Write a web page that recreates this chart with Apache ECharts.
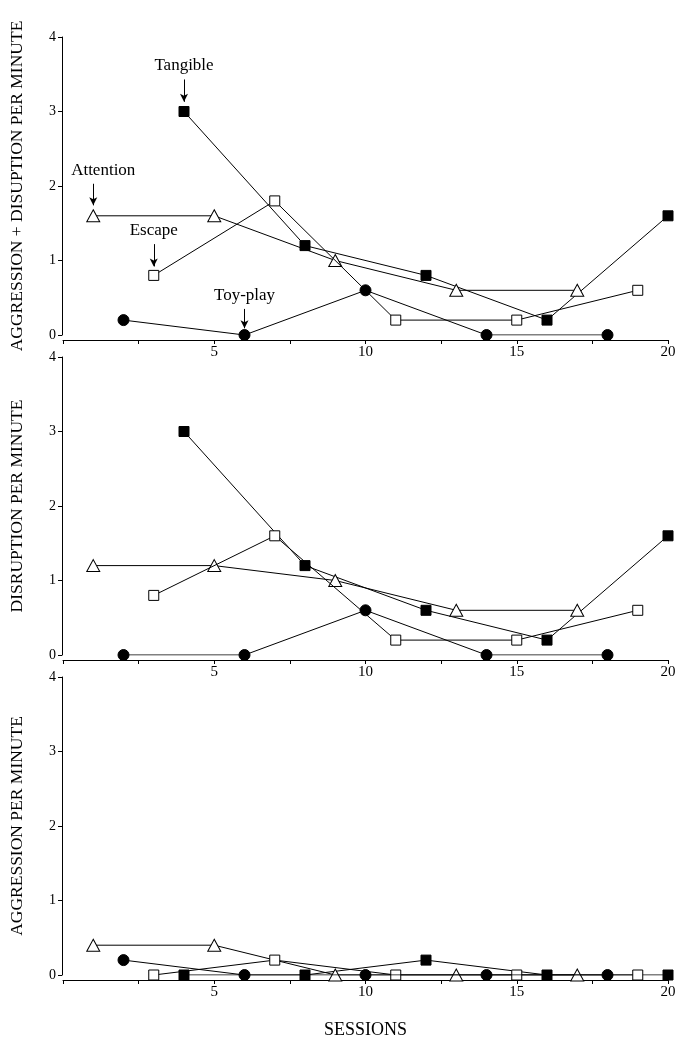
<!DOCTYPE html>
<html>
<head>
<meta charset="utf-8">
<script src="https://cdn.jsdelivr.net/npm/echarts@6/dist/echarts.min.js"></script>
<style>
    html, body { margin: 0; padding: 0; background: #fff; }
    #chart { width: 684px; height: 1047px; }
</style>
</head>
<body>
<div id="chart"></div>
<script>
// sessions for each condition
const sessTangible = [4, 8, 12, 16, 20]
const sessAttention = [1, 5, 9, 13, 17]
const sessEscape = [3, 7, 11, 15, 19]
const sessToy = [2, 6, 10, 14, 18]

// aggression + disruption per minute (top panel)
const totTangible = [3.0, 1.2, 0.8, 0.2, 1.6]
const totAttention = [1.6, 1.6, 1.0, 0.6, 0.6]
const totEscape = [0.8, 1.8, 0.2, 0.2, 0.6]
const totToy = [0.2, 0.0, 0.6, 0.0, 0.0]

// disruption per minute (middle panel)
const disTangible = [3.0, 1.2, 0.6, 0.2, 1.6]
const disAttention = [1.2, 1.2, 1.0, 0.6, 0.6]
const disEscape = [0.8, 1.6, 0.2, 0.2, 0.6]
const disToy = [0.0, 0.0, 0.6, 0.0, 0.0]

// aggression per minute (bottom panel)
const aggTangible = [0.0, 0.0, 0.2, 0.0, 0.0]
const aggAttention = [0.4, 0.4, 0.0, 0.0, 0.0]
const aggEscape = [0.0, 0.2, 0.0, 0.0, 0.0]
const aggToy = [0.2, 0.0, 0.0, 0.0, 0.0]

const yTitles = ['AGGRESSION + DISUPTION PER MINUTE', 'DISRUPTION PER MINUTE', 'AGGRESSION PER MINUTE']
const xTitle = 'SESSIONS'

const font = 'Liberation Serif'
const tops = [37, 357, 677]

const pair = (xs, ys) => xs.map((x, i) => [x, ys[i]])

const chart = echarts.init(document.getElementById('chart'))

const grids = tops.map(t => ({ left: 60, width: 608, top: t, height: 298 }))

const xAxes = tops.map((t, i) => ({
    type: 'value',
    gridIndex: i,
    min: 0,
    max: 20,
    interval: 5,
    offset: 5,
    name: i === 2 ? xTitle : '',
    nameLocation: 'middle',
    nameGap: 41,
    nameTextStyle: { fontFamily: font, fontSize: 18, color: '#000' },
    axisLine: { onZero: false, lineStyle: { color: '#000', width: 1 } },
    axisTick: { length: 4, lineStyle: { color: '#000' } },
    minorTick: { show: true, splitNumber: 2, length: 4, lineStyle: { color: '#000' } },
    axisLabel: {
        fontFamily: font, fontSize: 15, color: '#000', margin: 5,
        formatter: v => (v === 0 ? '' : v)
    },
    splitLine: { show: false }
}))

const yAxes = tops.map((t, i) => ({
    type: 'value',
    gridIndex: i,
    min: 0,
    max: 4,
    interval: 1,
    offset: 1,
    name: yTitles[i],
    nameLocation: 'middle',
    nameGap: 36,
    nameTextStyle: { fontFamily: font, fontSize: 17.5, color: '#000' },
    axisLine: { onZero: false, lineStyle: { color: '#000', width: 1 } },
    axisTick: { length: 4, lineStyle: { color: '#000' } },
    axisLabel: { fontFamily: font, fontSize: 14, color: '#000', margin: 6 },
    splitLine: { show: false }
}))

// 标记样式
const styles = {
    tangible: { symbol: 'rect', symbolSize: 10, itemStyle: { color: '#000', borderColor: '#000', borderWidth: 1 } },
    attention: { symbol: 'triangle', symbolSize: [13, 12], itemStyle: { color: '#fff', borderColor: '#000', borderWidth: 1 } },
    escape: { symbol: 'rect', symbolSize: 10, itemStyle: { color: '#fff', borderColor: '#000', borderWidth: 1 } },
    toy: { symbol: 'circle', symbolSize: 11, itemStyle: { color: '#000', borderColor: '#000', borderWidth: 1 } }
}

// 箭头标注
const arrow = (label, x, y1, y2, dx) => ({
    silent: true,
    symbol: ['none', 'arrow'],
    symbolSize: [6, 8],
    lineStyle: { color: '#000', width: 1, type: 'solid' },
    label: {
        show: true, position: 'start', formatter: label, distance: 5,
        fontFamily: font, fontSize: 17, color: '#000', offset: [dx || 0, 0]
    },
    data: [[{ coord: [x, y1] }, { coord: [x, y2] }]]
})

const panels = [
    [totTangible, totAttention, totEscape, totToy],
    [disTangible, disAttention, disEscape, disToy],
    [aggTangible, aggAttention, aggEscape, aggToy]
]
const keys = ['tangible', 'attention', 'escape', 'toy']
const sess = [sessTangible, sessAttention, sessEscape, sessToy]
const names = ['Tangible', 'Attention', 'Escape', 'Toy-play']
const arrows = [
    arrow('Tangible', 4, 3.43, 3.13),
    arrow('Attention', 1, 2.03, 1.74, 10),
    arrow('Escape', 3, 1.22, 0.92),
    arrow('Toy-play', 6, 0.35, 0.09)
]

const series = []
panels.forEach((vals, p) => {
    vals.forEach((ys, k) => {
        const s = Object.assign({
            type: 'line',
            name: names[k],
            xAxisIndex: p,
            yAxisIndex: p,
            data: pair(sess[k], ys),
            lineStyle: { color: '#000', width: 1 },
            z: 2 + k
        }, styles[keys[k]])
        if (p === 0) s.markLine = arrows[k]
        series.push(s)
    })
})

chart.setOption({
    animation: false,
    grid: grids,
    xAxis: xAxes,
    yAxis: yAxes,
    series: series
})
</script>
</body>
</html>
